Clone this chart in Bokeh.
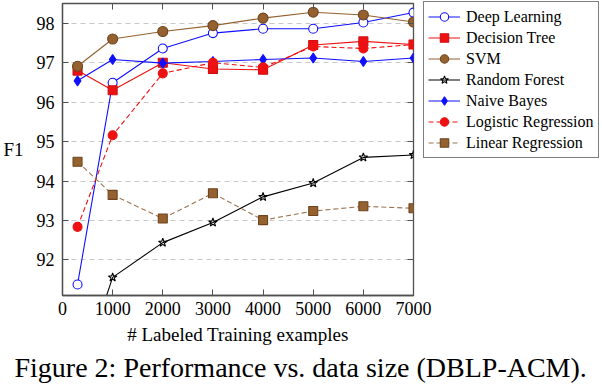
from bokeh.plotting import figure
from bokeh.models import Range1d, FixedTicker, LinearAxis, Legend, LegendItem, Title
from bokeh.embed import file_html
from bokeh.resources import INLINE

sizes = [300, 1000, 2000, 3000, 4000, 5000, 6000, 7000]
deep_learning = [91.38, 96.49, 97.36, 97.75, 97.86, 97.86, 98.02, 98.27]
decision_tree = [96.80, 96.30, 97.00, 96.84, 96.82, 97.45, 97.54, 97.46]
svm = [96.91, 97.60, 97.79, 97.94, 98.13, 98.28, 98.21, 98.03]
random_forest = [88.9, 91.56, 92.44, 92.95, 93.60, 93.95, 94.60, 94.66]
naive_bayes = [96.54, 97.08, 96.99, 97.03, 97.08, 97.12, 97.03, 97.12]
logistic_regression = [92.84, 95.16, 96.73, 97.00, 96.88, 97.41, 97.36, 97.46]
linear_regression = [94.49, 93.65, 93.05, 93.69, 93.01, 93.24, 93.36, 93.31]

x_ticks = [0, 1000, 2000, 3000, 4000, 5000, 6000, 7000]
y_ticks = [92, 93, 94, 95, 96, 97, 98]

FONT = "Liberation Serif"
AX = "#505050"
FW, FH = 351, 292

p = figure(frame_width=FW, frame_height=FH, output_backend="svg", toolbar_location=None,
           x_range=Range1d(0, 7000), y_range=Range1d(91.1, 98.5),
           min_border_left=61, min_border_right=190, min_border_top=3, min_border_bottom=86)
p.outline_line_color = AX
p.outline_line_width = 1.3
p.background_fill_color = "white"
p.border_fill_color = "white"

p.xgrid.grid_line_color = None
p.ygrid.ticker = FixedTicker(ticks=y_ticks)
p.ygrid.grid_line_color = "#c8c8c8"
p.ygrid.grid_line_dash = "5 4"
p.ygrid.grid_line_width = 1

for ax in (p.xaxis[0], p.yaxis[0]):
    ax.major_tick_in = 6
    ax.major_tick_out = 0
    ax.minor_tick_line_color = None
    ax.axis_line_color = AX
    ax.axis_line_width = 1.3
    ax.major_tick_line_color = AX
    ax.major_label_text_font = FONT
    ax.major_label_text_font_size = "18px"
    ax.major_label_text_color = "black"
    ax.axis_label_text_font = FONT
    ax.axis_label_text_font_size = "19px"
    ax.axis_label_text_font_style = "normal"
    ax.axis_label_text_color = "black"

p.xaxis.ticker = FixedTicker(ticks=x_ticks)
p.yaxis.ticker = FixedTicker(ticks=y_ticks)
p.xaxis.major_label_standoff = 6
p.yaxis.major_label_standoff = 8
p.xaxis.axis_label = "# Labeled Training examples"
p.xaxis.axis_label_standoff = 6
p.yaxis.axis_label = "F1"
p.yaxis.axis_label_orientation = "horizontal"
p.yaxis.axis_label_standoff = 10

top_ax = LinearAxis(ticker=FixedTicker(ticks=x_ticks), major_tick_in=6, major_tick_out=0,
                    minor_tick_line_color=None, axis_line_color=None, major_tick_line_color=AX,
                    major_label_overrides={t: "" for t in x_ticks}, major_label_standoff=0)
p.add_layout(top_ax, "above")

BLUE = "#1010ff"
RED = "#ee1111"
BROWN = "#94612f"
BROWN_D = "#6e4520"

items = []

def add(name, ys, color, marker, size, fill, line_color=None, dash="solid", mline=None):
    l = p.line(sizes, ys, line_color=line_color or color, line_width=1.1, line_dash=dash)
    s = p.scatter(sizes, ys, marker=marker, size=size, fill_color=fill,
                  line_color=mline or color, line_width=1.1)
    items.append(LegendItem(label=name, renderers=[l, s]))

add("Deep Learning", deep_learning, BLUE, "circle", 9, "white")
add("Decision Tree", decision_tree, RED, "square", 9, RED, mline="#d01010")
add("SVM", svm, BROWN, "circle", 10, BROWN, mline=BROWN_D)
add("Random Forest", random_forest, "black", "star", 9, None)
add("Naive Bayes", naive_bayes, BLUE, "diamond", 10, BLUE)
add("Logistic Regression", logistic_regression, RED, "circle", 9, RED, dash="5 3")
add("Linear Regression", linear_regression, BROWN, "square", 9, BROWN, line_color="#9c7450",
    dash="5 3", mline=BROWN_D)

LEG_H = 7 * 21 + 2 * 4
legend = Legend(items=items, location=(10, FH - LEG_H))
legend.label_text_font = FONT
legend.label_text_font_size = "16px"
legend.label_text_color = "black"
legend.label_height = 21
legend.glyph_height = 21
legend.glyph_width = 32
legend.spacing = 0
legend.padding = 4
legend.margin = 0
legend.border_line_color = "black"
legend.border_line_width = 1
legend.background_fill_color = "white"
legend.label_standoff = 6
p.add_layout(legend, "right")

right_ax = LinearAxis(ticker=FixedTicker(ticks=y_ticks), major_tick_in=6, major_tick_out=0,
                      minor_tick_line_color=None, axis_line_color=None, major_tick_line_color=AX,
                      major_label_overrides={t: "" for t in y_ticks}, major_label_standoff=0,
                      fixed_location=7000)
p.add_layout(right_ax, "right")

cap = Title(text="Figure 2: Performance vs. data size (DBLP-ACM).", align="left",
            text_font=FONT, text_font_size="28px", text_font_style="normal",
            text_color="black", offset=-48, standoff=4)
p.add_layout(cap, "below")

open("out.html", "w").write(file_html(p, INLINE))
